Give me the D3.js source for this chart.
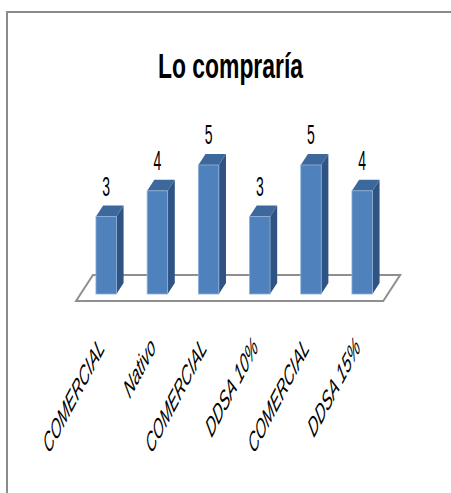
<!DOCTYPE html>
<html>
<head>
<meta charset="utf-8">
<script src="https://cdn.jsdelivr.net/npm/d3@7"></script>
<style>
  html, body { margin: 0; padding: 0; background: #fff; }
  svg { display: block; }
</style>
</head>
<body>
<svg id="chart" width="451" height="493"></svg>
<script>
// Chart data
const chartTitle = "Lo compraría";
const categories = ["COMERCIAL", "Nativo", "COMERCIAL", "DDSA 10%", "COMERCIAL", "DDSA 15%"];
const values = [3, 4, 5, 3, 5, 4];

const svg = d3.select("#chart");

// Chart area frame (runs past the right and bottom edges)
svg.append("rect")
  .attr("x", 7).attr("y", 12)
  .attr("width", 480).attr("height", 520)
  .attr("fill", "#fff")
  .attr("stroke", "#8a8a8a")
  .attr("stroke-width", 2);

// Title, squeezed horizontally
svg.append("text")
  .attr("x", 158).attr("y", 78)
  .attr("textLength", 145)
  .attr("lengthAdjust", "spacingAndGlyphs")
  .attr("font-family", "Liberation Sans, Arial, sans-serif")
  .attr("font-size", 35)
  .attr("font-weight", "bold")
  .attr("fill", "#000")
  .text(chartTitle);

// Scales
const idx = d3.range(categories.length);
const x = d3.scaleBand().domain(idx).range([80.6, 387.8]).paddingInner(0.6).paddingOuter(0.3);
const y = d3.scaleLinear().domain([0, 5]).range([294, 165]);
const bw = x.bandwidth();

// Oblique projection for depth
const depth = d => [d * 0.65, -d];
const barDepth = depth(11);

// Floor plane
const [x0, x1] = x.range();
const y0 = y(0);
const fFront = depth(-7), fBack = depth(19);
const floorPts = [
  [x0 + fFront[0], y0 + fFront[1]],
  [x1 + fFront[0], y0 + fFront[1]],
  [x1 + fBack[0], y0 + fBack[1]],
  [x0 + fBack[0], y0 + fBack[1]]
];
svg.append("polygon")
  .attr("points", floorPts.map(p => p.join(",")).join(" "))
  .attr("fill", "#fff")
  .attr("stroke", "#8f8f8f")
  .attr("stroke-width", 2)
  .attr("stroke-linejoin", "miter");

// 3D columns
const bars = svg.append("g").selectAll("g")
  .data(values)
  .join("g");

bars.append("polygon") // side
  .attr("points", (v, i) => {
    const xl = x(i), xr = xl + bw, yt = y(v);
    return [[xr, yt], [xr + barDepth[0], yt + barDepth[1]], [xr + barDepth[0], y0 + barDepth[1]], [xr, y0]]
      .map(p => p.join(",")).join(" ");
  })
  .attr("fill", "#2f5484");

bars.append("polygon") // top
  .attr("points", (v, i) => {
    const xl = x(i), xr = xl + bw, yt = y(v);
    return [[xl, yt], [xr, yt], [xr + barDepth[0], yt + barDepth[1]], [xl + barDepth[0], yt + barDepth[1]]]
      .map(p => p.join(",")).join(" ");
  })
  .attr("fill", "#3d689c");

bars.append("rect") // front
  .attr("x", (v, i) => x(i))
  .attr("y", v => y(v))
  .attr("width", bw)
  .attr("height", v => y0 - y(v))
  .attr("fill", "#4f81bd")
  .attr("stroke", "#8fb0d8")
  .attr("stroke-width", 0.8);

// Value labels
svg.append("g").selectAll("text")
  .data(values)
  .join("text")
  .attr("transform", (v, i) => `translate(${x(i) + bw / 2},${y(v) - 21}) scale(0.5,1)`)
  .attr("text-anchor", "middle")
  .attr("font-family", "Liberation Sans, Arial, sans-serif")
  .attr("font-size", 28)
  .attr("fill", "#000")
  .text(v => v);

// Category labels, slanted and condensed along the baseline
svg.append("g").selectAll("text")
  .data(categories)
  .join("text")
  .attr("transform", (c, i) => `translate(${x(i) + bw / 2 - 1},349) scale(0.53,1) rotate(-45)`)
  .attr("text-anchor", "end")
  .attr("font-family", "Liberation Sans, Arial, sans-serif")
  .attr("font-style", "italic")
  .attr("font-size", 28)
  .attr("fill", "#000")
  .text(c => c)
  .each(function () {
    const natural = this.getComputedTextLength();
    d3.select(this)
      .attr("textLength", natural * 0.9)
      .attr("lengthAdjust", "spacingAndGlyphs");
  });
</script>
</body>
</html>
